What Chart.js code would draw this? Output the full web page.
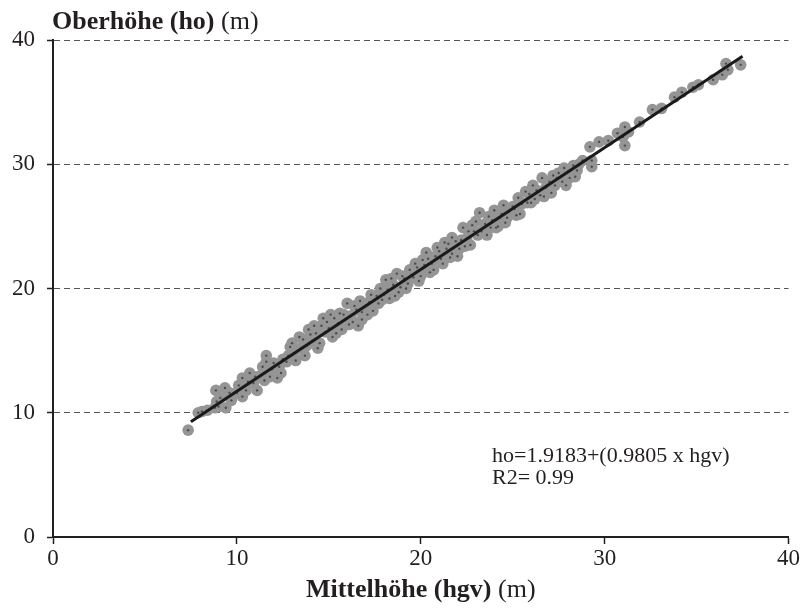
<!DOCTYPE html>
<html>
<head>
<meta charset="utf-8">
<script src="https://cdn.jsdelivr.net/npm/chart.js@4"></script>
<style>
  html, body { margin: 0; padding: 0; background: #fff; }
  #wrap { width: 801px; height: 616px; }
</style>
</head>
<body>
<div id="wrap"><canvas id="chart" width="801" height="616"></canvas></div>
<script>
// Mittelhöhe (hgv) in m
const hgv = [7.35, 7.9, 8.4, 8.8, 8.86, 9.0, 9.1, 9.35, 9.4, 9.7, 10.0, 10.3, 10.3, 10.5, 10.7, 10.9, 11.1, 11.3, 11.5, 11.6,
    11.6, 11.9, 12.2, 12.3, 12.5, 12.7, 12.9, 13.1, 13.4, 13.5, 13.7, 13.9, 14.0, 14.1, 14.3, 14.5, 14.6, 14.7, 14.8, 15.0,
    15.1, 15.2, 15.5, 15.7, 15.8, 15.9, 16.0, 16.2, 16.3, 16.5, 16.6, 16.8, 16.8, 17.0, 17.2, 17.4, 17.5, 17.6, 17.8, 18.0,
    18.1, 18.3, 18.5, 18.7, 18.8, 18.9, 19.1, 19.3, 19.4, 19.6, 19.8, 20.0, 20.1, 20.1, 20.3, 20.5, 20.7, 20.9, 21.0, 21.2,
    21.4, 21.5, 21.7, 21.7, 22.0, 22.1, 22.3, 22.5, 22.7, 22.8, 22.9, 23.1, 23.2, 23.5, 23.7, 23.8, 24.0, 24.2, 24.3, 24.5,
    24.7, 24.8, 25.0, 25.2, 25.3, 25.5, 25.7, 26.0, 26.1, 26.3, 26.5, 26.6, 26.7, 27.0, 27.2, 27.3, 27.5, 27.7, 27.8, 28.1,
    28.3, 28.5, 28.8, 29.2, 29.3, 29.3, 29.7, 30.2, 30.7, 31.0, 31.1, 31.1, 31.3, 31.9, 32.6, 33.1, 33.8, 34.2, 34.8, 35.1,
    35.9, 36.4, 36.6, 36.7, 37.4,
    8.1, 8.9, 9.6, 10.1, 10.6, 11.0, 11.4, 11.8, 12.0, 12.4, 12.8, 13.0, 13.2, 13.6, 13.8, 14.2, 14.4, 14.9, 15.3, 15.4,
    15.6, 16.1, 16.4, 16.7, 17.1, 17.3, 17.7, 17.9, 18.2, 18.4, 18.6, 19.0, 19.2, 19.5, 19.7, 19.9, 20.2, 20.4, 20.6, 20.8,
    21.1, 21.3, 21.6, 21.9, 22.2, 22.4, 22.6, 23.0, 23.3, 23.6, 23.9, 24.1, 24.4, 24.6, 25.1, 25.4, 25.8, 25.9, 26.2, 26.8,
    27.1, 27.4, 27.9, 28.0, 28.4, 28.6];
// Oberhöhe (ho) in m
const ho = [8.6, 10.0, 10.2, 10.4, 11.8, 10.5, 11.2, 12.0, 10.4, 11.0, 11.6, 11.3, 12.8, 11.8, 13.2, 12.4, 11.8, 13.0, 12.6, 14.1,
    14.6, 13.5, 12.8, 13.7, 14.3, 14.1, 15.3, 14.8, 16.1, 15.2, 14.6, 16.7, 16.3, 15.8, 16.4, 15.6, 17.0, 17.6, 16.5, 16.8,
    17.9, 16.1, 17.2, 16.7, 17.9, 17.5, 18.8, 17.8, 17.3, 18.3, 17.0, 17.5, 18.1, 18.6, 18.9, 18.2, 19.1, 19.4, 20.0, 19.5,
    20.7, 19.2, 20.3, 21.2, 19.7, 20.1, 20.8, 20.4, 21.5, 20.9, 21.7, 21.0, 22.3, 21.6, 22.9, 21.3, 21.5, 23.3, 23.0, 22.0,
    23.2, 23.6, 22.8, 24.1, 22.6, 23.2, 24.9, 24.0, 23.5, 25.1, 24.6, 24.3, 26.1, 25.2, 25.8, 24.9, 26.3, 25.0, 25.7, 26.7,
    25.7, 26.2, 26.6, 25.9, 27.3, 26.8, 27.8, 26.9, 28.3, 27.9, 27.5, 28.9, 27.4, 28.6, 29.1, 28.3, 29.3, 28.6, 29.7, 28.9,
    29.9, 29.5, 30.3, 31.4, 29.8, 30.3, 31.8, 31.9, 32.5, 32.2, 33.0, 31.5, 32.6, 33.4, 34.4, 34.5, 35.4, 35.8, 36.2, 36.4,
    36.8, 37.2, 38.1, 37.6, 38.0,
    10.1, 10.9, 11.6, 12.2, 12.5, 12.9, 13.7, 12.9, 14.0, 13.2, 14.6, 15.6, 14.2, 15.9, 15.4, 17.0, 15.2, 17.3, 17.6, 16.4,
    18.0, 17.1, 18.6, 19.0, 17.9, 19.5, 18.8, 19.1, 19.9, 20.8, 19.4, 21.0, 20.0, 21.1, 22.0, 20.6, 21.9, 22.4, 22.0, 22.6,
    22.4, 23.7, 22.5, 23.8, 23.9, 23.4, 24.6, 25.4, 24.6, 24.3, 25.5, 24.9, 26.0, 25.3, 26.4, 26.0, 26.9, 27.6, 27.2, 28.1,
    27.7, 28.9, 28.3, 29.4, 29.0, 30.0];
// Regressionsgerade ho = 1.9183 + 0.9805 * hgv (Endpunkte)
const fitX = [7.5, 37.5];
const fitY = [9.27, 38.69];
const ticks = [0, 10, 20, 30, 40];

const serif = '"Liberation Serif", "Times New Roman", serif';
const points = hgv.map((x, i) => ({ x: x, y: ho[i] }));
const fit = fitX.map((x, i) => ({ x: x, y: fitY[i] }));

// Achsentitel (fett + normal gemischt) und Gleichung
const labelsPlugin = {
    id: 'labels',
    afterDraw(chart) {
        const ctx = chart.ctx;
        const area = chart.chartArea;
        ctx.save();
        ctx.fillStyle = '#231f20';
        ctx.textBaseline = 'alphabetic';

        function mixed(bold, normal, x, y, center) {
            ctx.font = 'bold 26px ' + serif;
            const w1 = ctx.measureText(bold).width;
            ctx.font = '26px ' + serif;
            const w2 = ctx.measureText(normal).width;
            let left = center ? x - (w1 + w2) / 2 : x;
            ctx.textAlign = 'left';
            ctx.font = 'bold 26px ' + serif;
            ctx.fillText(bold, left, y);
            ctx.font = '26px ' + serif;
            ctx.fillText(normal, left + w1, y);
        }

        mixed('Oberhöhe (ho)', ' (m)', area.left - 1, 29, false);
        mixed('Mittelhöhe (hgv)', ' (m)', (area.left + area.right) / 2, 597, true);

        ctx.font = '22px ' + serif;
        ctx.textAlign = 'left';
        ctx.fillText('ho=1.9183+(0.9805 x hgv)', 492, 462);
        ctx.fillText('R2= 0.99', 492, 484);
        ctx.restore();
    }
};

new Chart(document.getElementById('chart'), {
    type: 'scatter',
    data: {
        datasets: [{
            type: 'line',
            data: fit,
            borderColor: '#1a1a1a',
            borderWidth: 3,
            pointRadius: 0,
            fill: false
        }, {
            data: points,
            pointRadius: 1.2,
            pointBackgroundColor: '#4d4d4d',
            pointBorderWidth: 0
        }, {
            data: points,
            pointRadius: 5.8,
            pointBackgroundColor: '#959595',
            pointBorderWidth: 0
        }]
    },
    options: {
        responsive: false,
        animation: false,
        layout: { padding: { top: 40, right: 12, left: 0, bottom: 0 } },
        plugins: {
            legend: { display: false },
            tooltip: { enabled: false }
        },
        scales: {
            x: {
                type: 'linear',
                min: 0,
                max: 40,
                afterBuildTicks: s => { s.ticks = ticks.map(v => ({ value: v })); },
                afterFit: s => { s.height = 79; },
                border: { display: true, color: '#231f20', width: 2 },
                grid: { drawOnChartArea: false, drawTicks: true, tickLength: 7, tickColor: '#231f20', tickWidth: 1.5 },
                ticks: { color: '#231f20', padding: 1, font: { family: serif, size: 23 } }
            },
            y: {
                type: 'linear',
                min: 0,
                max: 40,
                afterBuildTicks: s => { s.ticks = ticks.map(v => ({ value: v })); },
                afterFit: s => { s.width = 53; },
                border: { display: true, color: '#231f20', width: 2, dash: [6, 4] },
                grid: {
                    color: c => (c.tick && c.tick.value === 0) ? 'rgba(0,0,0,0)' : '#555555',
                    lineWidth: 1,
                    drawTicks: true,
                    tickLength: 6,
                    tickColor: '#231f20',
                    tickWidth: 1.5
                },
                ticks: { color: '#231f20', padding: 12, font: { family: serif, size: 23 } }
            }
        }
    },
    plugins: [labelsPlugin]
});
</script>
</body>
</html>
